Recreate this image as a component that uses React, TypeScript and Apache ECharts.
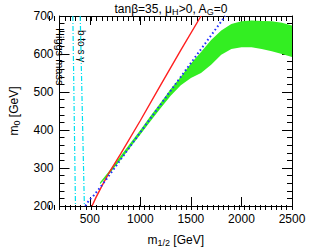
import React, { useEffect, useRef } from "react";
import * as echarts from "echarts";

// ---- data (GeV) ----
const higgsLine: [number, number][] = [[332, 700], [358, 200]];
const bsgLine: [number, number][] = [[405, 700], [446, 200]];
const redLine: [number, number][] = [
  [522, 200], [560, 222], [616, 251], [700, 292], [805, 337], [1000, 425], [1200, 518], [1400, 610], [1600, 700],
];
const blueLine: [number, number][] = [
  [455, 200], [480, 210], [510, 220], [540, 228], [600, 248], [682, 277], [1000, 394], [1400, 540], [1840, 700],
];
const bandM = [600, 650, 700, 800, 900, 1000, 1100, 1200, 1300, 1400, 1500, 1600, 1700, 1800, 1900, 2000, 2100, 2200, 2300, 2400, 2500];
const bandUpper = [262, 278, 295, 330, 365, 400, 437, 472, 508, 540, 575, 605, 637, 662, 679, 686, 688, 687, 686, 682, 675];
const bandLower = [257, 271, 287, 320, 354, 388, 423, 457, 490, 518, 537, 550, 572, 598, 613, 618, 618, 613, 607, 600, 592];

const xMin = 200, xMax = 2500, yMin = 200, yMax = 700;
const FONT = "'Liberation Sans', Arial, Helvetica, sans-serif";

export default function App() {
  const ref = useRef<HTMLDivElement>(null);
  useEffect(() => {
    document.body.style.margin = "0";
    const chart = echarts.init(ref.current!, null, { renderer: "svg" });
    const grid = { left: 49, top: 16, right: 17, bottom: 42 };
    const axLine = { show: true, onZero: false, lineStyle: { color: "#000", width: 1 } };
    const sub = { fontSize: 9, fontFamily: FONT, color: "#000", padding: [6, 0, 0, 0] };
    chart.setOption({
      animation: false,
      grid: [grid, grid],
      graphic: [
        {
          type: "text", x: 171, y: 1,
          style: {
            text: "tanβ=35, μ{s|H}>0, A{s|G}=0",
            align: "center", verticalAlign: "top",
            fontSize: 12, fontFamily: FONT, fill: "#000",
            rich: { s: { fontSize: 9, fontFamily: FONT, fill: "#000", padding: [6, 0, 0, 0] } },
          },
        },
        {
          type: "text", x: 65.5, y: 28, rotation: -Math.PI / 2,
          style: { text: "Higgs mass", fontSize: 11, fontFamily: FONT, fill: "#000", align: "left", verticalAlign: "top" },
        },
        {
          type: "text", x: 86.5, y: 30, rotation: -Math.PI / 2,
          style: { text: "b to s γ", fontSize: 10, fontFamily: FONT, fill: "#000", align: "left", verticalAlign: "top" },
        },
      ],
      xAxis: [
        {
          type: "value", gridIndex: 0, position: "bottom", min: xMin, max: xMax, splitNumber: 5,
          axisLine: axLine, splitLine: { show: false },
          axisTick: { inside: true, length: 9, lineStyle: { color: "#000" } },
          axisLabel: {
            margin: 7, fontSize: 12, fontFamily: FONT, color: "#000",
            formatter: (v: number) => (v % 500 === 0 ? String(v) : ""),
          },
          name: "m{s|1/2} [GeV]", nameLocation: "middle", nameGap: 26,
          nameTextStyle: { fontSize: 12, fontFamily: FONT, color: "#000", rich: { s: sub } },
        },
        {
          type: "value", gridIndex: 0, position: "top", min: xMin, max: xMax, splitNumber: 5,
          axisLine: axLine, splitLine: { show: false },
          axisTick: { inside: true, length: 9, lineStyle: { color: "#000" } },
          axisLabel: { show: false },
        },
        {
          type: "value", gridIndex: 1, position: "bottom", min: xMin, max: xMax, interval: 50,
          axisLine: { show: false }, splitLine: { show: false },
          axisTick: { inside: true, length: 5, lineStyle: { color: "#000" } },
          axisLabel: { show: false },
        },
        {
          type: "value", gridIndex: 1, position: "top", min: xMin, max: xMax, interval: 50,
          axisLine: { show: false }, splitLine: { show: false },
          axisTick: { inside: true, length: 5, lineStyle: { color: "#000" } },
          axisLabel: { show: false },
        },
      ],
      yAxis: [
        {
          type: "value", gridIndex: 0, position: "left", min: yMin, max: yMax, interval: 100,
          axisLine: axLine, splitLine: { show: false },
          axisTick: { inside: true, length: 10, lineStyle: { color: "#000" } },
          minorTick: { show: true, splitNumber: 5, length: 5, lineStyle: { color: "#000" } },
          axisLabel: { margin: 6, fontSize: 12, fontFamily: FONT, color: "#000" },
          name: "m{s|0} [GeV]", nameLocation: "middle", nameGap: 38,
          nameTextStyle: { fontSize: 12, fontFamily: FONT, color: "#000", rich: { s: sub } },
        },
        {
          type: "value", gridIndex: 0, position: "right", min: yMin, max: yMax, interval: 100,
          axisLine: axLine, splitLine: { show: false },
          axisTick: { inside: true, length: 10, lineStyle: { color: "#000" } },
          minorTick: { show: true, splitNumber: 5, length: 5, lineStyle: { color: "#000" } },
          axisLabel: { show: false },
        },
        {
          type: "value", gridIndex: 1, min: yMin, max: yMax, show: false,
        },
      ],
      series: [
        {
          type: "custom",
          xAxisIndex: 0, yAxisIndex: 0,
          data: bandM.map((m, i) => [m, bandLower[i], bandUpper[i]]),
          encode: { x: 0, y: [1, 2] },
          clip: true,
          z: 1,
          renderItem: (params: any, api: any) => {
            if (params.dataIndex !== 0) return null;
            const top = bandM.map((m, i) => api.coord([m, bandUpper[i]]));
            const bot = bandM.map((m, i) => api.coord([m, bandLower[i]])).reverse();
            return { type: "polygon", shape: { points: top.concat(bot) }, style: { fill: "#33ee22" } };
          },
        },
        {
          type: "line", xAxisIndex: 0, yAxisIndex: 0, data: higgsLine, showSymbol: false, z: 3,
          lineStyle: { color: "#00e0f0", width: 1.2, type: [5, 2, 1, 2] },
        },
        {
          type: "line", xAxisIndex: 0, yAxisIndex: 0, data: bsgLine, showSymbol: false, z: 3,
          lineStyle: { color: "#00e0f0", width: 1.2, type: [5, 2, 1, 2] },
        },
        {
          type: "line", xAxisIndex: 0, yAxisIndex: 0, data: redLine, showSymbol: false, z: 3,
          lineStyle: { color: "#ff2020", width: 1.4 },
        },
        {
          type: "line", xAxisIndex: 0, yAxisIndex: 0, data: blueLine, showSymbol: false, z: 4,
          lineStyle: { color: "#2030ff", width: 2, type: [1.6, 2.6] },
        },
      ],
    });
    return () => chart.dispose();
  }, []);
  return <div ref={ref} style={{ width: 309, height: 252 }} />;
}
